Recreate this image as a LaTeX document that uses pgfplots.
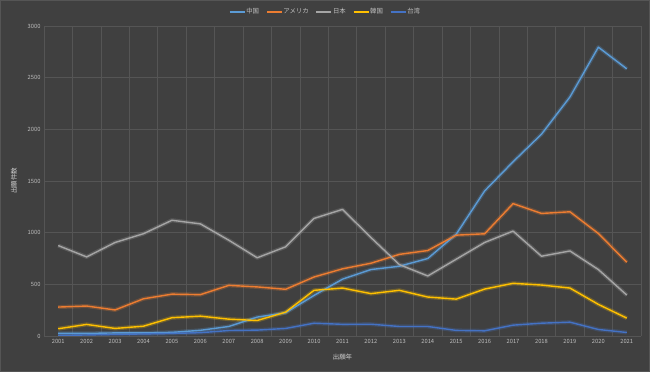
\documentclass[border=0pt]{standalone}
\usepackage{pgfplots}
\pgfplotsset{compat=1.18}
\usepackage{pgfplotstable}
\usepackage{fontspec}
\setmainfont{Noto Sans CJK JP}
\definecolor{bgcol}{HTML}{404040}
\definecolor{gridcol}{HTML}{555555}
\definecolor{txtcol}{HTML}{BFBFBF}
\definecolor{ttlcol}{HTML}{D0D0D0}
\definecolor{cCN}{HTML}{5B9BD5}
\definecolor{cUS}{HTML}{ED7D31}
\definecolor{cJP}{HTML}{A5A5A5}
\definecolor{cKR}{HTML}{FFC000}
\definecolor{cTW}{HTML}{4472C4}
\pgfplotstableread{
year CN US JP KR TW
2001 25 280 875 70 5
2002 25 290 765 112 10
2003 30 252 905 73 15
2004 30 360 990 95 20
2005 35 405 1120 177 25
2006 55 400 1085 192 32
2007 92 490 927 163 53
2008 183 475 757 150 57
2009 225 452 863 231 73
2010 393 571 1138 442 124
2011 550 650 1225 464 113
2012 643 704 953 410 114
2013 675 790 691 442 92
2014 750 827 581 377 92
2015 985 976 743 357 54
2016 1404 989 905 454 50
2017 1686 1281 1015 510 105
2018 1953 1186 772 493 124
2019 2313 1202 823 464 134
2020 2795 992 643 306 63
2021 2585 714 396 173 34
}\data
\begin{document}
\begin{tikzpicture}
\path[use as bounding box, fill=bgcol, draw=gridcol, line width=0.8bp] (0.4bp,0.4bp) rectangle (649.6bp,371.6bp);
\begin{axis}[
  at={(44bp,36bp)}, anchor=south west,
  scale only axis, width=597bp, height=310bp,
  xmin=2000.5, xmax=2021.5, ymin=0, ymax=3000,
  xtick={2001,...,2021},
  minor xtick={2000.5,2001.5,...,2021.5},
  ytick={0,500,...,3000},
  grid=none,
  minor x grid style={gridcol, line width=0.6bp},
  xminorgrids=true, ymajorgrids=true,
  major y grid style={gridcol, line width=0.6bp},
  axis line style={draw=none},
  major tick length=0pt, minor tick length=0pt,
  xticklabel style={font=\fontsize{5.8}{7}\selectfont, text=txtcol},
  yticklabel style={font=\fontsize{5.8}{7}\selectfont, text=txtcol},
  /pgf/number format/assume math mode=true,
  /pgf/number format/1000 sep={},
  xticklabel={\pgfmathprintnumber[/pgf/number format/fixed,/pgf/number format/precision=0,/pgf/number format/1000 sep={}]{\tick}},
  xtick pos=bottom, ytick pos=left,
  xlabel={出願年}, ylabel={出願件数},
  xlabel style={at={(axis description cs:0.5,0)}, anchor=center, yshift=-21bp, font=\fontsize{6.5}{8}\selectfont, text=ttlcol},
  ylabel style={at={(axis description cs:-0.0503,0.5)}, anchor=center, rotate=0, font=\fontsize{6.5}{8}\selectfont, text=ttlcol},
  legend columns=5,
  legend style={at={(0.4707,1.045)}, anchor=center, draw=none, fill=none,
    font=\fontsize{6.4}{8}\selectfont, text=txtcol,
    nodes={inner sep=1bp},
    /tikz/every even column/.append style={column sep=6bp}},
  legend image code/.code={\draw[#1] (0bp,0bp) -- (15bp,0bp);},
  every axis plot/.append style={line join=round},
]
% glow layers
\addplot[cCN, line width=4bp, opacity=0.25, forget plot] table[x=year,y=CN]{\data};
\addplot[cUS, line width=4bp, opacity=0.25, forget plot] table[x=year,y=US]{\data};
\addplot[cJP, line width=4bp, opacity=0.25, forget plot] table[x=year,y=JP]{\data};
\addplot[cKR, line width=4bp, opacity=0.25, forget plot] table[x=year,y=KR]{\data};
\addplot[cTW, line width=4bp, opacity=0.25, forget plot] table[x=year,y=TW]{\data};
% main lines
\addplot[cCN, line width=1.4bp] table[x=year,y=CN]{\data};
\addplot[cUS, line width=1.4bp] table[x=year,y=US]{\data};
\addplot[cJP, line width=1.4bp] table[x=year,y=JP]{\data};
\addplot[cKR, line width=1.4bp] table[x=year,y=KR]{\data};
\addplot[cTW, line width=1.4bp] table[x=year,y=TW]{\data};
\legend{中国,アメリカ,日本,韓国,台湾}
\end{axis}
\end{tikzpicture}
\end{document}
